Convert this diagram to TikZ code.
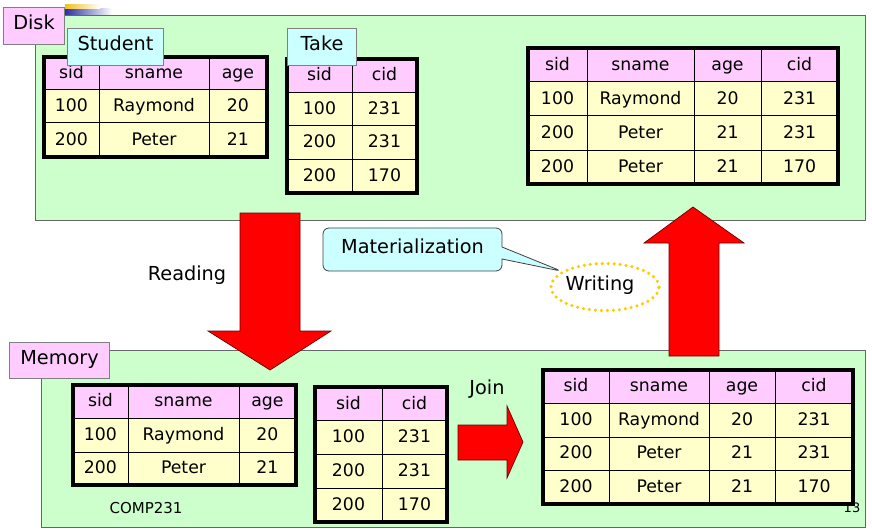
\documentclass[tikz,border=0pt]{standalone}
\usepackage{fontspec}
\setmainfont{DejaVu Sans}
\usetikzlibrary{shapes.geometric,shapes.callouts}
\definecolor{bggreen}{HTML}{CCFFCC}
\definecolor{hdrpink}{HTML}{FFCCFF}
\definecolor{cellyel}{HTML}{FFFFCC}
\definecolor{lblcyan}{HTML}{CCFFFF}
\definecolor{dotgold}{HTML}{FFCC00}
\definecolor{arrred}{HTML}{FF0000}
\definecolor{decoblue}{HTML}{2B2FA0}
\definecolor{decoyel}{HTML}{F0C020}
\begin{document}
\begin{tikzpicture}[x=1pt,y=-1pt,
 region/.style={fill=bggreen,draw=black!60,line width=1pt},
 tagbox/.style={fill=hdrpink,draw=black!50,line width=1pt,anchor=north west},
 cyantag/.style={fill=lblcyan,draw=black!50,line width=1pt,anchor=north west},
 txt/.style={inner sep=0pt,text height=0.73em,text depth=0pt,yshift=-1.5pt,font=\fontsize{17.3}{20}\selectfont},
 lbl/.style={inner sep=0pt,text height=0.73em,text depth=0pt,font=\fontsize{19.3}{22}\selectfont},
 gridline/.style={draw=black,line width=1pt},
 tframe/.style={draw=black,line width=4pt},
 blockarrow/.style={fill=arrred,draw=black!60!red,line width=0.7pt,line join=miter}
]
\useasboundingbox (0,0) rectangle (872,532);
\fill[white] (0,0) rectangle (872,532);

% decoration
\shade[left color=decoblue,right color=white] (65,9) rectangle (112,16);
\shade[left color=decoyel,right color=white] (65,5) rectangle (100,9);

% regions
\draw[region] (35,16) rectangle (865,220);
\draw[region] (41,350) rectangle (865,527);
\node[tagbox,lbl,minimum width=61pt,minimum height=37pt] (disk) at (3,7) {Disk};
\node[tagbox,lbl,minimum width=100pt,minimum height=36pt] (memory) at (9,342) {Memory};

% Table A: disk student
\fill[hdrpink] (44,57) rectangle (267,90);
\fill[cellyel] (44,90) rectangle (267,157);
\draw[gridline] (99,57) -- (99,157) (209,57) -- (209,157) (44,90) -- (267,90) (44,123) -- (267,123);
\draw[tframe] (44,57) rectangle (267,157);
\foreach \x/\h/\p/\q [count=\i] in {71.5/sid/100/200,154/sname/Raymond/Peter,238/age/20/21}{
  \node[txt] (ah\i) at (\x,73.5) {\h};
  \node[txt] (ar1c\i) at (\x,106.5) {\p};
  \node[txt] (ar2c\i) at (\x,140) {\q};}
\node[cyantag,lbl,minimum width=96pt,minimum height=37pt] (student) at (67,28) {Student};

% Table B: disk take
\fill[hdrpink] (287,59) rectangle (417,92.5);
\fill[cellyel] (287,92.5) rectangle (417,193);
\draw[gridline] (352,59) -- (352,193) (287,92.5) -- (417,92.5) (287,126) -- (417,126) (287,159.5) -- (417,159.5);
\draw[tframe] (287,59) rectangle (417,193);
\foreach \x/\h/\p/\q/\r [count=\i] in {319.5/sid/100/200/200,384.5/cid/231/231/170}{
  \node[txt] (bh\i) at (\x,75.75) {\h};
  \node[txt] (br1c\i) at (\x,109.25) {\p};
  \node[txt] (br2c\i) at (\x,142.75) {\q};
  \node[txt] (br3c\i) at (\x,176.25) {\r};}
\node[cyantag,lbl,minimum width=69pt,minimum height=37pt] (take) at (287,28) {Take};

% Table C: disk result
\fill[hdrpink] (528,48) rectangle (838,82);
\fill[cellyel] (528,82) rectangle (838,184);
\draw[gridline] (587,48) -- (587,184) (694,48) -- (694,184) (761,48) -- (761,184)
  (528,82) -- (838,82) (528,116) -- (838,116) (528,150) -- (838,150);
\draw[tframe] (528,48) rectangle (838,184);
\foreach \x/\h/\p/\q/\r [count=\i] in {557.5/sid/100/200/200,640.5/sname/Raymond/Peter/Peter,727.5/age/20/21/21,799.5/cid/231/231/170}{
  \node[txt] (ch\i) at (\x,65) {\h};
  \node[txt] (cr1c\i) at (\x,99) {\p};
  \node[txt] (cr2c\i) at (\x,133) {\q};
  \node[txt] (cr3c\i) at (\x,167) {\r};}

% Table D: memory student
\fill[hdrpink] (73,385) rectangle (296,418);
\fill[cellyel] (73,418) rectangle (296,485);
\draw[gridline] (128,385) -- (128,485) (239,385) -- (239,485) (73,418) -- (296,418) (73,452) -- (296,452);
\draw[tframe] (73,385) rectangle (296,485);
\foreach \x/\h/\p/\q [count=\i] in {100.5/sid/100/200,183.5/sname/Raymond/Peter,267.5/age/20/21}{
  \node[txt] (dh\i) at (\x,401.5) {\h};
  \node[txt] (dr1c\i) at (\x,435) {\p};
  \node[txt] (dr2c\i) at (\x,468.5) {\q};}

% Table E: memory take
\fill[hdrpink] (315,387) rectangle (447,420.75);
\fill[cellyel] (315,420.75) rectangle (447,522);
\draw[gridline] (382,387) -- (382,522) (315,420.75) -- (447,420.75) (315,454.5) -- (447,454.5) (315,488.25) -- (447,488.25);
\draw[tframe] (315,387) rectangle (447,522);
\foreach \x/\h/\p/\q/\r [count=\i] in {348.5/sid/100/200/200,414.5/cid/231/231/170}{
  \node[txt] (eh\i) at (\x,403.9) {\h};
  \node[txt] (er1c\i) at (\x,437.6) {\p};
  \node[txt] (er2c\i) at (\x,471.4) {\q};
  \node[txt] (er3c\i) at (\x,505.1) {\r};}

% Table F: memory result
\fill[hdrpink] (543,370) rectangle (853,403);
\fill[cellyel] (543,403) rectangle (853,504);
\draw[gridline] (609,370) -- (609,504) (709,370) -- (709,504) (775,370) -- (775,504)
  (543,403) -- (853,403) (543,437) -- (853,437) (543,470) -- (853,470);
\draw[tframe] (543,370) rectangle (853,504);
\foreach \x/\h/\p/\q/\r [count=\i] in {576/sid/100/200/200,659/sname/Raymond/Peter/Peter,742/age/20/21/21,814/cid/231/231/170}{
  \node[txt] (fh\i) at (\x,386.5) {\h};
  \node[txt] (fr1c\i) at (\x,420) {\p};
  \node[txt] (fr2c\i) at (\x,453.5) {\q};
  \node[txt] (fr3c\i) at (\x,487) {\r};}

% block arrows
\draw[blockarrow] (240,213) -- (300,213) -- (300,331) -- (331,331) -- (270,370) -- (208,331) -- (240,331) -- cycle;
\draw[blockarrow] (669,356) -- (719,356) -- (719,243) -- (744,243) -- (693,207) -- (644,243) -- (669,243) -- cycle;
\draw[blockarrow] (458,425) -- (507,425) -- (507,406) -- (523,442) -- (507,478) -- (507,460) -- (458,460) -- cycle;

% labels
\node[lbl] (reading) at (187,277) {Reading};
\node[lbl] (join) at (487,391) {Join};
\node[inner sep=0pt,text height=0.73em,text depth=0pt,font=\fontsize{15}{18}\selectfont] (course) at (146,510) {COMP231};
\node[inner sep=0pt,text height=0.73em,text depth=0pt,font=\fontsize{13}{16}\selectfont] (pagenum) at (852,509) {13};

% writing ellipse and callout
\node[ellipse,draw=dotgold,line width=3.5pt,dash pattern=on 0pt off 6pt,line cap=round,
  minimum width=108pt,minimum height=47pt,lbl] (wr) at (605,287) {\hspace*{-10pt}Writing};
\node[rectangle callout,rounded corners=6pt,fill=lblcyan,draw=black!75,line width=0.8pt,
  minimum width=179pt,minimum height=43pt,callout absolute pointer={(wr.160)},
  callout pointer width=12pt,lbl] (mat) at (412.5,249.5) {Materialization};
\end{tikzpicture}
\end{document}
